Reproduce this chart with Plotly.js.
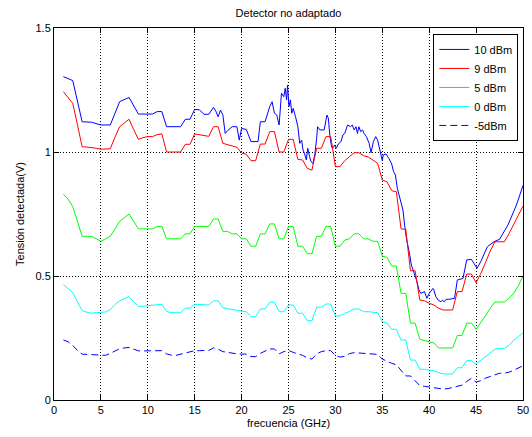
<!DOCTYPE html>
<html>
<head>
<meta charset="utf-8">
<script src="https://cdn.plot.ly/plotly-3.0.1.min.js"></script>
<style>html,body{margin:0;padding:0;background:#fff;}#chart{width:532px;height:437px;}</style>
</head>
<body>
<div id="chart"></div>
<script>
// Frequency grid (GHz) shared by 9, 5, 0 and -5 dBm series
const freq = [1,1.5,2,2.5,3,3.5,4,4.5,5,5.5,6,6.5,7,7.5,8,8.5,9,9.5,10,10.5,
  11,11.5,12,12.5,13,13.5,14,14.5,15,15.5,16,16.5,17,17.5,18,18.5,19,19.5,20,20.5,
  21,21.5,22,22.5,23,23.5,24,24.5,25,25.5,26,26.5,27,27.5,28,28.5,29,29.5,30,30.5,
  31,31.5,32,32.5,33,33.5,34,34.5,35,35.5,36,36.5,37,37.5,38,38.5,39,39.5,40,40.5,
  41,41.5,42,42.5,43,43.5,44,44.5,45,45.5,46,46.5,47,47.5,48,48.5,49,49.5,50];

// 10 dBm series (denser sampling)
const freq10 = [1,2,3,4,5,6,7,8,9,10,10.5,11,11.5,12,13,13.5,14,14.5,15,15.5,16,16.5,
  17,17.25,17.5,17.75,18,18.25,18.5,18.75,19,19.5,19.75,20,20.5,21,21.5,21.75,22,22.5,
  23,23.25,23.5,23.75,24,24.25,24.5,24.65,24.8,24.9,25.05,25.2,25.35,25.5,25.75,26,
  26.2,26.4,26.55,26.7,26.9,27.05,27.25,27.4,27.6,27.8,28,28.1,28.35,28.8,29.1,29.25,
  29.4,29.6,29.8,29.9,30.1,30.3,30.6,30.8,31,31.3,31.6,31.8,32,32.2,32.35,32.5,32.7,
  32.9,33.05,33.3,33.6,33.8,34.05,34.3,34.5,34.8,35,35.1,35.4,35.7,36,36.2,36.4,36.6,
  36.9,37.2,37.4,37.6,37.9,38.1,38.4,38.7,38.9,39.1,39.5,39.75,40,40.4,40.5,40.7,40.95,
  41.25,41.4,41.6,41.8,42.1,42.7,43,43.6,44,44.5,44.8,45.1,45.5,46.2,46.9,47.5,48.4,49.3,50];
const v10dBm = [1.304,1.288,1.122,1.12,1.109,1.109,1.203,1.22,1.153,1.153,1.153,1.163,1.163,1.102,1.102,1.102,1.132,1.132,1.172,1.17,1.152,1.152,
  1.18,1.165,1.142,1.169,1.15,1.075,1.086,1.095,1.102,1.102,1.048,1.095,1.091,1.042,1.042,1.042,1.122,1.122,
  1.183,1.203,1.156,1.149,1.109,1.237,1.223,1.257,1.21,1.27,1.183,1.21,1.156,1.176,1.142,1.102,
  1.035,1.048,1.008,0.995,0.968,1.015,0.981,0.961,0.954,0.988,1.055,1.102,1.089,1.089,1.149,1.136,
  1.069,1.019,1.019,1.028,1.015,1.032,1.042,1.069,1.075,1.109,1.102,1.109,1.089,1.102,1.075,1.102,1.082,
  1.089,1.075,1.062,1.035,0.997,1.042,1.062,1.048,1.001,0.965,0.988,0.992,0.974,0.952,0.921,0.907,0.854,
  0.806,0.766,0.699,0.645,0.591,0.544,0.511,0.477,0.444,0.43,0.437,0.41,0.43,0.45,0.444,0.417,0.403,
  0.396,0.403,0.396,0.406,0.406,0.41,0.484,0.49,0.565,0.567,0.551,0.531,0.558,0.618,0.638,0.648,0.706,0.786,0.865];

const v9dBm = [1.243,1.22,1.196,1.11,1.021,1.02,1.019,1.015,1.011,1.011,
  1.013,1.06,1.102,1.117,1.132,1.09,1.051,1.058,1.062,1.062,
  1.07,1.073,1.0,1.0,1.0,1.0,1.031,1.031,1.073,1.07,
  1.065,1.063,1.102,1.102,1.035,1.03,1.026,1.019,0.996,0.991,
  0.965,0.965,1.032,1.032,1.082,1.082,1.0,1.0,1.051,1.051,
  0.97,0.968,0.934,0.927,1.015,1.015,1.062,1.062,0.941,0.941,
  0.965,0.98,0.997,0.997,0.985,0.98,0.967,0.955,0.887,0.88,
  0.844,0.84,0.69,0.688,0.521,0.521,0.403,0.4,0.39,0.383,
  0.37,0.363,0.363,0.363,0.437,0.437,0.508,0.508,0.473,0.51,
  0.554,0.6,0.638,0.638,0.638,0.67,0.71,0.745,0.782];

const v5dBm = [0.83,0.81,0.78,0.72,0.66,0.66,0.66,0.65,0.64,0.65,
  0.66,0.69,0.72,0.735,0.75,0.72,0.69,0.69,0.69,0.69,
  0.70,0.70,0.65,0.65,0.65,0.65,0.67,0.67,0.70,0.70,
  0.70,0.70,0.73,0.73,0.68,0.68,0.67,0.67,0.65,0.65,
  0.62,0.62,0.67,0.67,0.71,0.71,0.65,0.65,0.70,0.70,
  0.62,0.62,0.59,0.59,0.66,0.66,0.70,0.70,0.62,0.62,
  0.645,0.65,0.67,0.67,0.65,0.65,0.64,0.64,0.58,0.575,
  0.54,0.54,0.43,0.43,0.31,0.31,0.245,0.24,0.235,0.23,
  0.21,0.21,0.21,0.21,0.26,0.26,0.31,0.31,0.285,0.31,
  0.34,0.37,0.395,0.395,0.395,0.41,0.43,0.46,0.50];

const v0dBm = [0.465,0.45,0.433,0.395,0.36,0.354,0.35,0.352,0.354,0.355,
  0.365,0.385,0.40,0.41,0.417,0.395,0.378,0.378,0.38,0.383,
  0.385,0.386,0.357,0.352,0.352,0.352,0.37,0.37,0.386,0.385,
  0.384,0.383,0.40,0.40,0.372,0.368,0.365,0.36,0.358,0.356,
  0.336,0.336,0.367,0.367,0.394,0.394,0.356,0.356,0.383,0.383,
  0.35,0.35,0.32,0.32,0.374,0.374,0.387,0.387,0.339,0.339,
  0.35,0.357,0.367,0.367,0.356,0.356,0.354,0.352,0.316,0.31,
  0.285,0.285,0.242,0.242,0.161,0.161,0.124,0.124,0.12,0.118,
  0.11,0.105,0.105,0.105,0.13,0.13,0.159,0.159,0.145,0.16,
  0.175,0.19,0.205,0.208,0.208,0.22,0.24,0.255,0.271];

const vm5dBm = [0.242,0.235,0.22,0.20,0.185,0.184,0.182,0.18,0.18,0.18,
  0.188,0.198,0.207,0.21,0.212,0.205,0.198,0.198,0.198,0.198,
  0.199,0.199,0.186,0.181,0.18,0.185,0.19,0.195,0.199,0.199,
  0.199,0.2,0.21,0.205,0.195,0.191,0.189,0.186,0.185,0.185,
  0.175,0.175,0.188,0.196,0.206,0.206,0.186,0.195,0.2,0.192,
  0.186,0.18,0.17,0.165,0.186,0.195,0.199,0.199,0.18,0.173,
  0.176,0.187,0.191,0.19,0.187,0.185,0.184,0.184,0.165,0.155,
  0.148,0.142,0.121,0.097,0.097,0.078,0.058,0.055,0.052,0.047,
  0.045,0.044,0.046,0.05,0.054,0.06,0.075,0.087,0.072,0.078,
  0.088,0.095,0.103,0.108,0.108,0.112,0.12,0.13,0.138];

const seriesNames = ['10 dBm','9 dBm','5 dBm','0 dBm','-5dBm'];
const xTicks = [0,5,10,15,20,25,30,35,40,45,50];
const yTicks = [0,0.5,1,1.5];
const yTickText = ['0','0.5','1','1.5'];

const FONT = 'Liberation Sans, Arial, Helvetica, sans-serif';

const traces = [
  {x: freq10, y: v10dBm, name: seriesNames[0], line: {color: '#0000ff', width: 1}},
  {x: freq, y: v9dBm, name: seriesNames[1], line: {color: '#ff0000', width: 1}},
  {x: freq, y: v5dBm, name: seriesNames[2], line: {color: '#00ff00', width: 1}},
  {x: freq, y: v0dBm, name: seriesNames[3], line: {color: '#00ffff', width: 1}},
  {x: freq, y: vm5dBm, name: seriesNames[4], line: {color: '#0000ff', width: 1, dash: '7px,4px'}}
].map(t => Object.assign({type: 'scatter', mode: 'lines', hoverinfo: 'skip'}, t));

const axisCommon = {
  showline: true, linecolor: '#000', linewidth: 1, mirror: 'ticks',
  ticks: 'inside', ticklen: 5, tickcolor: '#000', tickwidth: 1,
  showgrid: true, gridcolor: '#000', gridwidth: 1, griddash: '1px,2px',
  zeroline: false, tickfont: {family: FONT, size: 11, color: '#000'}
};

const layout = {
  width: 532, height: 437,
  margin: {l: 54, r: 9, t: 28, b: 37},
  paper_bgcolor: '#fff', plot_bgcolor: '#fff',
  font: {family: FONT, size: 11, color: '#000'},
  title: {text: 'Detector no adaptado', font: {family: FONT, size: 11, color: '#000'},
          x: 0.5423, xanchor: 'center', y: 1 - 13/437, yanchor: 'middle', yref: 'container'},
  xaxis: Object.assign({}, axisCommon, {
    range: [0, 50], tickvals: xTicks, ticktext: xTicks.map(String),
    title: {text: 'frecuencia (GHz)', font: {family: FONT, size: 11, color: '#000'}, standoff: 4}
  }),
  yaxis: Object.assign({}, axisCommon, {
    range: [0, 1.5], tickvals: yTicks, ticktext: yTickText,
    title: {text: 'Tensión detectada(V)', font: {family: FONT, size: 11, color: '#000'}, standoff: 8}
  }),
  showlegend: true,
  legend: {
    x: 0.99, xanchor: 'right', y: 0.984, yanchor: 'top',
    bgcolor: '#fff', bordercolor: '#000', borderwidth: 1,
    font: {family: FONT, size: 11, color: '#000'}, tracegroupgap: 0
  }
};

Plotly.newPlot('chart', traces, layout, {displayModeBar: false, staticPlot: true});
</script>
</body>
</html>
